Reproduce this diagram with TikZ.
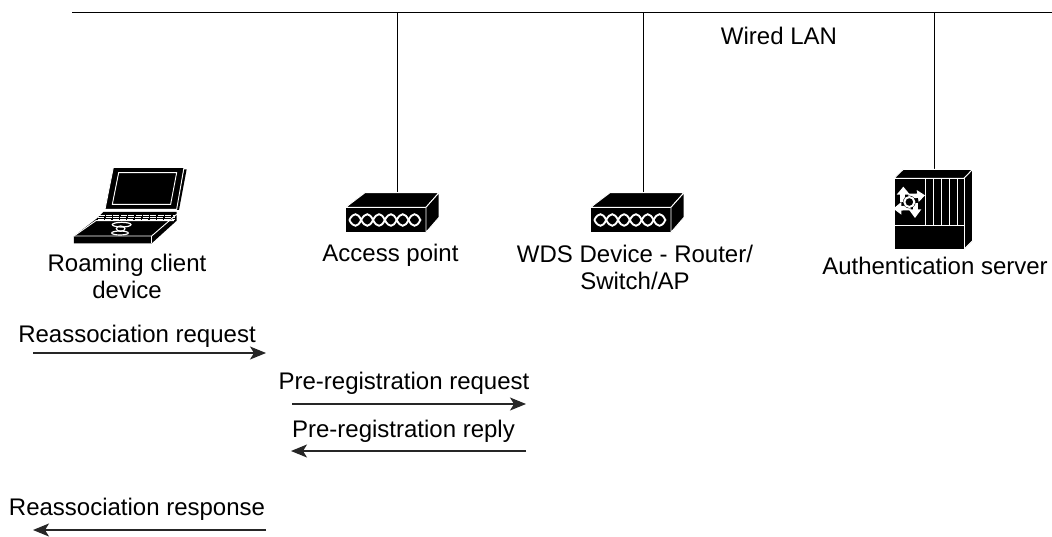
\documentclass[tikz,border=0pt]{standalone}
\usepackage{fontspec}
\setmainfont{Liberation Sans}
\usetikzlibrary{arrows.meta}
\tikzset{
  lbl/.style={font=\fontsize{24}{27}\selectfont, inner sep=0pt, align=center, text=black},
  wire/.style={draw=black, line width=0.95pt},
  msg/.style={draw=black!85, line width=1.2pt, -{Stealth[length=16pt,width=13pt,inset=4pt]}},
  blk/.style={fill=black, draw=white, line width=0.9pt, line join=round},
  wht/.style={draw=white, line width=0.9pt},
  zoomed/.style={x=0.3333pt, y=-0.3333pt},
  apbox/.pic={
    \begin{scope}[zoomed]
      \path[blk] (105,68) -- (327,68) -- (288,112) -- (47,112) -- cycle;
      \path[blk] (47,112) rectangle (288,187);
      \path[blk] (288,112) -- (327,68) -- (327,142) -- (288,187) -- cycle;
      \foreach \c in {0,1,2,3,4,5} {
        \draw[white, line width=1.9pt] (58+\c*35.5,150) .. controls (70+\c*35.5,127) and (83+\c*35.5,127) .. (93.5+\c*35.5,150)
          .. controls (83+\c*35.5,173) and (70+\c*35.5,173) .. (58+\c*35.5,150);
      }
    \end{scope}
  },
}
\begin{document}
\begin{tikzpicture}[x=1pt, y=-1pt]
\useasboundingbox (0,0) rectangle (1052,536);
\fill[white] (0,0) rectangle (1052,536);

% LAN
\coordinate (lanL) at (72,12);
\coordinate (lanR) at (1052,12);
\draw[wire] (lanL) -- (lanR);
\coordinate (t1) at (397,12);
\coordinate (t2) at (643,12);
\coordinate (t3) at (934,12);
\node[lbl] (lan) at (779,36) {Wired LAN};

% Laptop
\begin{scope}[shift={(60,150)}, zoomed]
  \path[fill=black] (372,58) -- (380,58) -- (357,180) -- (349,180) -- cycle;
  \path[blk] (160,52) -- (372,52) -- (350,178) -- (135,178) -- cycle;
  \draw[white, line width=0.9pt] (176,68) -- (350,68) -- (332,163) -- (157,163) -- cycle;
  \path[fill=black] (130,186) -- (350,186) -- (350,212) -- (275,280) -- (42,280) -- (42,258) -- (110,206) -- cycle;
  \foreach \y in {195,201,207} \draw[white, line width=0.8pt, dash pattern=on 6pt off 1.4pt] (125-\y/5+30,\y) -- (345,\y);
  \draw[white, line width=0.9pt] (42,258) -- (108,212) -- (342,212);
  \draw[wht] (42,258) -- (275,258) -- (350,193);
  \draw[wht] (275,258) -- (275,280);
  \draw[white, line width=1.2pt] (185,224) ellipse [x radius=28, y radius=7];
  \draw[white, line width=1.2pt] (180,249) ellipse [x radius=25, y radius=6];
  \draw[white, line width=1.2pt] (182,236) ellipse [x radius=13, y radius=8];
\end{scope}
\node[lbl] (client) at (127,276) {Roaming client\\device};

% Access point
\pic at (330,170) {apbox};
\coordinate (ap) at (397,192);
\draw[wire] (t1) -- (ap);
\node[lbl] (aplabel) at (390.5,255) {Access point};

% WDS
\pic at (575,170) {apbox};
\coordinate (wds) at (643,192);
\draw[wire] (t2) -- (wds);
\node[lbl] (wdslabel) at (635,267) {WDS Device - Router/\\Switch/AP};

% Server
\draw[wire] (t3) -- (934,170);
\coordinate (srv) at (934,170);
\begin{scope}[shift={(880,160)}, zoomed]
  \path[blk] (42,55) -- (70,28) -- (278,28) -- (252,55) -- cycle;
  \path[blk] (252,55) -- (278,28) -- (278,242) -- (252,268) -- cycle;
  \path[blk] (42,55) rectangle (252,268);
  \foreach \x in {137,160,185,208,232} \draw[white, line width=0.9pt] (\x,55) -- (\x,197);
  \draw[white, line width=1.1pt] (42,197) -- (252,197);
  % routing arrows
  \draw[white, line width=4.5pt] (68,125) -- (68,98);
  \fill[white] (50,104) -- (70,80) -- (90,104) -- cycle;
  \draw[white, line width=4.5pt] (85,108) -- (118,107);
  \fill[white] (110,90) -- (135,106) -- (116,126) -- cycle;
  \draw[white, line width=4.5pt] (106,128) -- (106,155);
  \fill[white] (86,148) -- (124,148) -- (105,174) -- cycle;
  \draw[white, line width=4.5pt] (92,144) -- (60,145);
  \fill[white] (64,126) -- (40,146) -- (64,164) -- cycle;
  \fill[black] (88,126) circle (19);
  \draw[white, line width=2pt] (88,126) circle (15);
\end{scope}
\node[lbl] (srvlabel) at (935,266) {Authentication server};

% Messages
\coordinate (a1) at (33,353); \coordinate (a2) at (266,353);
\coordinate (b1) at (292,404); \coordinate (b2) at (526,404);
\coordinate (c1) at (526,451); \coordinate (c2) at (291,451);
\coordinate (d1) at (266,530); \coordinate (d2) at (33,530);
\draw[msg] (a1) -- (a2);
\draw[msg] (b1) -- (b2);
\draw[msg] (c1) -- (c2);
\draw[msg] (d1) -- (d2);
\node[lbl] (m1) at (137,336) {Reassociation request};
\node[lbl] (m2) at (404,383) {Pre-registration request};
\node[lbl] (m3) at (403.5,431) {Pre-registration reply};
\node[lbl] (m4) at (137,509) {Reassociation response};
\end{tikzpicture}
\end{document}
